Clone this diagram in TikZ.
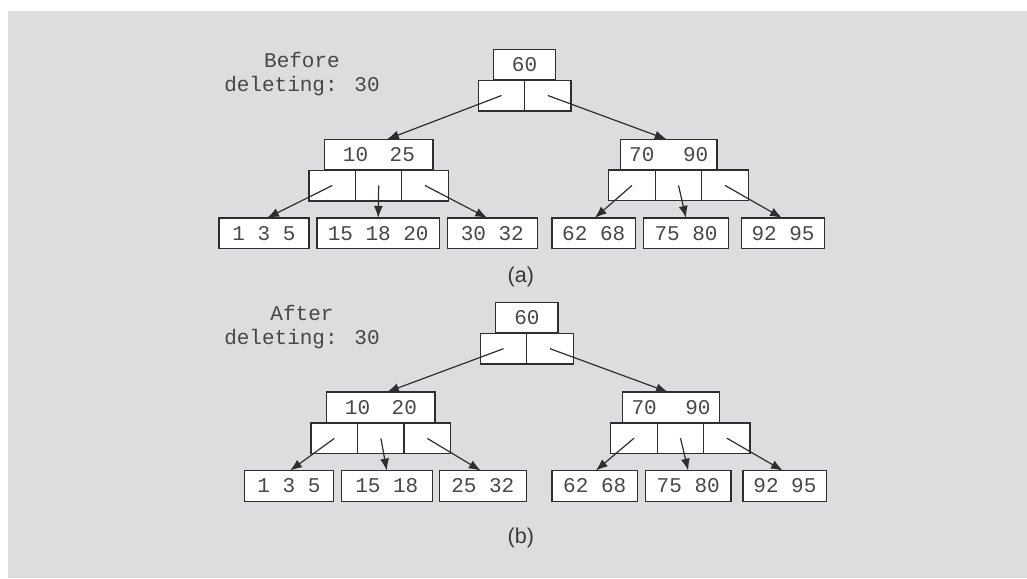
\documentclass[tikz,border=0pt]{standalone}
\usepackage{fontspec}
\setmainfont{Liberation Sans}
\newfontfamily\monof{Liberation Mono}
\usetikzlibrary{arrows.meta}
\definecolor{bgc}{HTML}{DCDDDF}
\definecolor{linec}{HTML}{2E2E2E}
\definecolor{textc}{HTML}{474747}
\tikzset{
  box/.style={draw=linec, fill=white, line width=1.3pt, minimum height=30.7pt,
    inner sep=0pt, outer sep=0pt, text=textc, font={\monof\fontsize{21}{24}\selectfont}},
  cell/.style={box, minimum width=46.4pt},
  ptr/.style={draw=linec, line width=1.2pt, -{Latex[length=12pt,width=9pt]}},
  lbl/.style={text=textc, align=center, font={\monof\fontsize{21}{24.3}\selectfont}},
  captxt/.style={text=textc!80!black, font={\fontsize{21.5}{24}\selectfont}}
}
\begin{document}
\begin{tikzpicture}[x=1pt,y=-1pt]
\useasboundingbox (0,0) rectangle (1027,578);
\fill[bgc] (8,11) rectangle (1027,578);

% ---------- (a) ----------
\node[lbl] (labA) at (302,74) {Before\\deleting: 30};
\node[box, minimum width=62.4pt] (aR) at (524.5,64.7) {60};
\node[cell] (aRc1) at (501.5,95.5) {};
\node[cell] (aRc2) at (547.8,95.5) {};

\node[box, minimum width=108.3pt] (aL) at (378.9,154.7) {10\kern9pt\ 25};
\node[cell] (aLc1) at (332.3,185.5) {};
\node[cell] (aLc2) at (378.7,185.5) {};
\node[cell] (aLc3) at (425,185.5) {};

\node[box, minimum width=96.7pt] (aM) at (668.7,154.7) {70\kern16pt\ 90};
\node[cell] (aMc1) at (632,185.4) {};
\node[cell] (aMc2) at (678.5,185.4) {};
\node[cell] (aMc3) at (725,185.4) {};

\node[box, minimum width=90pt] (a1) at (264,233.3) {1 3 5};
\node[box, minimum width=122.3pt] (a2) at (378.2,233.3) {15 18 20};
\node[box, minimum width=90pt] (a3) at (492.3,233.3) {30 32};
\node[box, minimum width=83.3pt] (a4) at (593.7,233.3) {62 68};
\node[box, minimum width=85.4pt] (a5) at (686,233.3) {75 80};
\node[box, minimum width=83.4pt] (a6) at (783,233.3) {92 95};

\draw[ptr] (aRc1.center) -- ([xshift=8pt]aL.north);
\draw[ptr] (aRc2.center) -- ([xshift=-2pt]aM.north);
\draw[ptr] (aLc1.center) -- ([xshift=3pt]a1.north);
\draw[ptr] (aLc2.center) -- (a2.north);
\draw[ptr] (aLc3.center) -- ([xshift=-5pt]a3.north);
\draw[ptr] (aMc1.center) -- ([xshift=1pt]a4.north);
\draw[ptr] (aMc2.center) -- (a5.north);
\draw[ptr] (aMc3.center) -- ([xshift=-1pt]a6.north);

\node[captxt] (capA) at (520.8,276.7) {(a)};

% ---------- (b) ----------
\node[lbl] (labB) at (302,327) {After\\deleting: 30};
\node[box, minimum width=62.3pt] (bR) at (526.9,317.7) {60};
\node[cell] (bRc1) at (503.5,348.7) {};
\node[cell] (bRc2) at (550,348.7) {};

\node[box, minimum width=108.3pt] (bL) at (380.9,407.4) {10\kern9pt\ 20};
\node[cell] (bLc1) at (334.3,438.4) {};
\node[cell] (bLc2) at (380.9,438.4) {};
\node[cell] (bLc3) at (427.3,438.4) {};

\node[box, minimum width=96.6pt] (bM) at (671,407.4) {70\kern16pt\ 90};
\node[cell] (bMc1) at (634,438.2) {};
\node[cell] (bMc2) at (680.5,438.2) {};
\node[cell] (bMc3) at (726.9,438.2) {};

\node[box, minimum width=88.6pt] (b1) at (289,486) {1 3 5};
\node[box, minimum width=91pt] (b2) at (386.8,486) {15 18};
\node[box, minimum width=87pt] (b3) at (482.8,486) {25 32};
\node[box, minimum width=85.3pt] (b4) at (594.7,486) {62 68};
\node[box, minimum width=85.7pt] (b5) at (688.2,486) {75 80};
\node[box, minimum width=83.7pt] (b6) at (784.9,486) {92 95};

\draw[ptr] (bRc1.center) -- ([xshift=6pt]bL.north);
\draw[ptr] (bRc2.center) -- ([xshift=-3pt]bM.north);
\draw[ptr] (bLc1.center) -- ([xshift=1pt]b1.north);
\draw[ptr] (bLc2.center) -- (b2.north);
\draw[ptr] (bLc3.center) -- ([xshift=-2pt]b3.north);
\draw[ptr] (bMc1.center) -- ([xshift=1pt]b4.north);
\draw[ptr] (bMc2.center) -- (b5.north);
\draw[ptr] (bMc3.center) -- ([xshift=-2pt]b6.north);

\node[captxt] (capB) at (520.8,538.3) {(b)};
\end{tikzpicture}
\end{document}
